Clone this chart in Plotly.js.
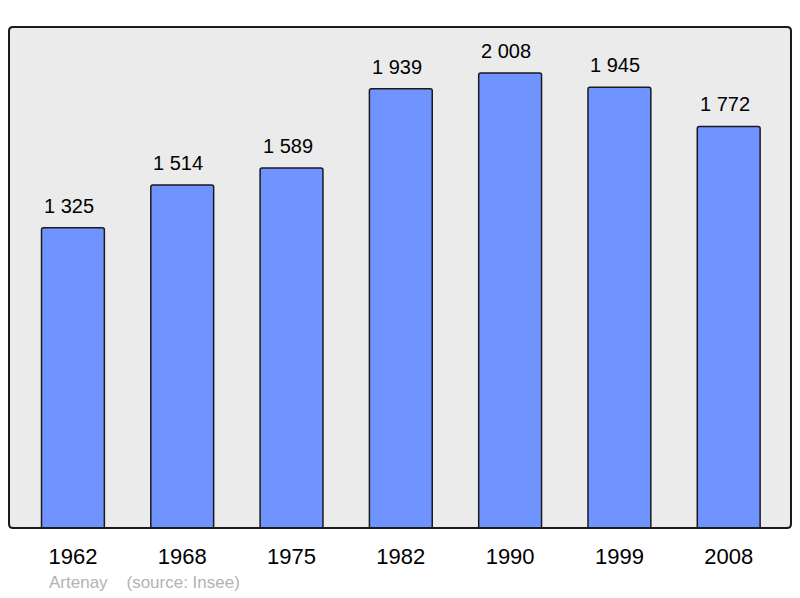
<!DOCTYPE html>
<html>
<head>
<meta charset="utf-8">
<script src="https://cdn.plot.ly/plotly-3.0.1.min.js"></script>
<style>html,body{margin:0;padding:0;background:#fff;}#chart{width:800px;height:598px;}</style>
</head>
<body>
<div id="chart"></div>
<script>
var years = ["1962", "1968", "1975", "1982", "1990", "1999", "2008"];
var population = [1325, 1514, 1589, 1939, 2008, 1945, 1772];
var valueLabels = ["1 325", "1 514", "1 589", "1 939", "2 008", "1 945", "1 772"];
var commune = "Artenay";
var source = "(source: Insee)";

var trace = {
  type: "bar",
  x: years,
  y: population,
  width: 0.575,
  marker: {color: "#7094ff", line: {color: "#1a1a1a", width: 1.5}, cornerradius: 2},
  hoverinfo: "none"
};

var annotations = years.map(function (yr, i) {
  return {
    x: i, y: population[i], xref: "x", yref: "y",
    text: valueLabels[i], showarrow: false,
    yanchor: "bottom", yshift: 9, xshift: -4,
    font: {family: "Liberation Sans, Arial, sans-serif", size: 20, color: "#000"}
  };
});
annotations.push({
  xref: "paper", yref: "paper", x: (47 - 9) / 782, y: -0.109,
  xanchor: "left", yanchor: "middle", showarrow: false,
  text: commune + "&nbsp;&nbsp;&nbsp;&nbsp;" + source,
  font: {family: "Liberation Sans, Arial, sans-serif", size: 17, color: "#b3b3b3"}
});

var rx = 4 / 782, ry = 4 / 501;
var framePath = "M " + rx + ",0 L " + (1 - rx) + ",0 Q 1,0 1," + ry +
  " L 1," + (1 - ry) + " Q 1,1 " + (1 - rx) + ",1 L " + rx + ",1 Q 0,1 0," + (1 - ry) +
  " L 0," + ry + " Q 0,0 " + rx + ",0 Z";

var layout = {
  width: 800, height: 598,
  margin: {l: 9, r: 9, t: 27, b: 70, pad: 0},
  paper_bgcolor: "#ffffff",
  plot_bgcolor: "#ebebeb",
  showlegend: false,
  xaxis: {
    type: "category", range: [-0.585, 6.57],
    showgrid: false, zeroline: false, showline: false,
    ticks: "", ticklabelstandoff: 13,
    tickfont: {family: "Liberation Sans, Arial, sans-serif", size: 22, color: "#000"}
  },
  yaxis: {
    range: [0, 2211], showgrid: false, zeroline: false, showline: false,
    showticklabels: false, ticks: ""
  },
  shapes: [{
    type: "path", xref: "paper", yref: "paper", path: framePath,
    line: {color: "#1a1a1a", width: 2}, layer: "above"
  }],
  annotations: annotations
};

Plotly.newPlot("chart", [trace], layout, {staticPlot: true, displayModeBar: false});
</script>
</body>
</html>
